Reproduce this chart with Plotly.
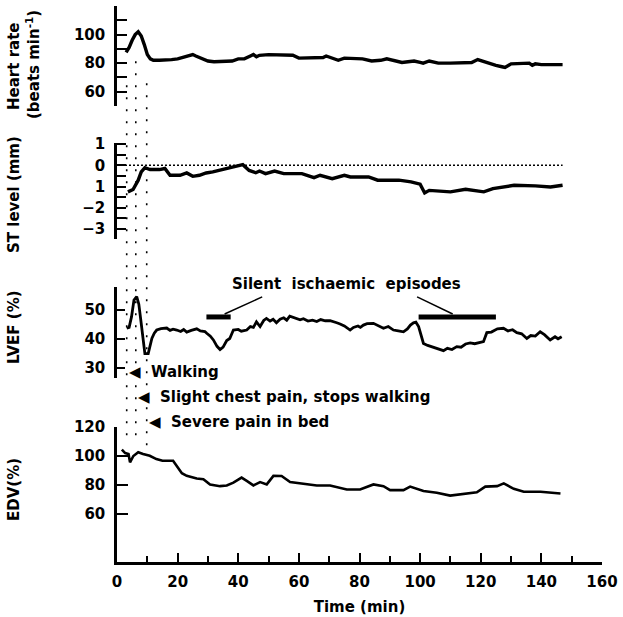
import plotly.graph_objects as go

# ---------------- data ----------------
hr_t = [3, 4, 5, 6, 7, 8, 9, 10, 11, 12, 14, 16, 18, 20, 22, 24, 25, 26, 28, 30, 32, 34, 36, 38, 40,
        42, 44, 45, 46, 47, 50, 54, 58, 60, 64, 68, 69, 71, 73, 75, 78, 81, 84, 87, 89, 92, 94, 96, 98,
        100, 101, 103, 106, 110, 114, 117, 119, 121, 123, 125, 127, 128, 130, 133, 136, 137, 138, 140, 144, 147]
hr_v = [87.5, 91, 96, 100, 102, 99, 93, 86, 83, 82, 82, 82, 82.5, 83, 84, 85.5, 86, 85, 83, 81.5, 81, 81,
        81.5, 81.5, 83, 83, 85, 86, 84.5, 85.5, 86, 86, 85.5, 83.5, 83.5, 84, 85, 83.5, 82, 83.5, 83.5, 83,
        81.5, 82, 83, 81.5, 80.5, 81, 81.5, 80.5, 80, 81.5, 80, 80, 80.5, 80.5, 82.5, 81, 80, 78.5, 77.5, 77,
        79.5, 80, 80, 78.5, 79.5, 79, 79, 79]

st_t = [3.6, 5.3, 7, 8, 9.2, 10.9, 14, 15.8, 17.5, 20.8, 23, 25, 27.2, 29.4, 31.6, 36, 38, 41.5, 43.6,
        45.8, 47, 49, 52, 55, 61, 65, 67, 71, 75, 77, 83, 86, 93, 97, 100, 101.5, 103, 110, 115, 121,
        124, 127, 131, 138, 143, 147]
st_v = [-1.25, -1.14, -0.7, -0.31, -0.11, -0.2, -0.2, -0.15, -0.47, -0.47, -0.36, -0.52, -0.47, -0.36,
        -0.31, -0.16, -0.13, 0.03, -0.24, -0.35, -0.27, -0.39, -0.27, -0.39, -0.39, -0.58, -0.47, -0.63,
        -0.47, -0.55, -0.55, -0.7, -0.7, -0.78, -0.89, -1.3, -1.18, -1.25, -1.13, -1.25, -1.1, -1.02,
        -0.94, -0.97, -1.02, -0.94]

lvef_t = [3.2, 4, 4.8, 5.6, 6.5, 7.2, 7.8, 8.5, 9.2, 10.3, 11, 11.5, 12.3, 13.1, 14.5, 16.4, 17.5, 18.5,
          19.7, 21, 22, 23, 24.5, 26.3, 27.5, 29, 29.6, 30.8, 31.8, 33, 34, 35, 36.2, 37.2, 38.4, 40,
          41, 42.8, 44, 45, 46, 47.2, 48.4, 49.3, 50.5, 51.5, 52.6, 53.8, 55, 56, 57, 58.3, 59.3, 60.4,
          61.5, 63, 64.5, 65.9, 67.2, 68.7, 70.3, 71.5, 72.5, 73.6, 75, 76.9, 78, 79.5, 80.3, 81.3,
          82.5, 84.6, 86, 87.9, 89.5, 91.2, 92.8, 94.5, 95.8, 96.8, 97.8, 98.6, 99.5, 100.3, 101.1,
          102.5, 104.4, 105.8, 107.7, 109, 110.5, 112.1, 113.5, 115, 116.5, 118, 119.5, 120.9, 122,
          123.5, 125.5, 127.5, 129, 130.5, 131.9, 133.5, 135.2, 136.5, 138, 139.6, 141, 142.9, 144.5,
          145.5, 146.7]
lvef_v = [43.7, 44, 47.7, 53.4, 54.6, 52, 47, 40.8, 35, 35, 38, 40.2, 42, 43.1, 43.6, 43.8, 43, 43.4,
          43.1, 42.6, 43.3, 42.4, 43, 43.5, 42.8, 42.6, 42, 41, 39.7, 37.5, 36.4, 37.2, 39.5, 40.2, 43.1,
          43.3, 42.7, 43.1, 44.3, 44, 45.9, 44.3, 46.4, 47.1, 46.2, 46.8, 45.6, 46.8, 47.3, 46.5, 47.9,
          47.4, 46.8, 46.6, 47, 46.2, 46.5, 46, 46.7, 46.3, 46.3, 45.8, 45.6, 45.2, 44.5, 43.1, 44, 44.5,
          44, 44.8, 45.3, 45.4, 44.6, 43.7, 44.3, 43.1, 42.8, 42.5, 43.5, 44.8, 45.6, 45.8, 44.3, 41,
          38.5, 37.8, 37.1, 36.6, 36, 36.8, 36.4, 37.4, 37.2, 38.3, 38.7, 38.4, 38.9, 39.1, 42.2, 42.4,
          43.5, 43.7, 42.8, 43.2, 42.2, 41.8, 40.2, 41.2, 41, 42.5, 41.5, 39.7, 40.8, 40.1, 40.8]

edv_t = [1.6, 2.7, 3.8, 4.3, 5.4, 7, 8.6, 10.8, 13, 15, 18.5, 19.7, 21.4, 23, 26.3, 28.5, 30.7, 34,
         36.2, 38.4, 41.1, 42.8, 45, 47.2, 49.4, 51.6, 54.3, 57.1, 60.4, 65.9, 70.3, 75.8, 80.2, 84.6,
         87.9, 90.1, 94.5, 96.7, 101.1, 105.5, 109.9, 114.3, 118.7, 121.5, 125.4, 127.6, 130.9, 134.2,
         139.7, 146.3]
edv_v = [104.4, 102, 101.4, 95.6, 100, 102.6, 101.4, 100.2, 97.9, 96.7, 96.7, 93.2, 88.1, 86.3, 84.5,
         84, 80.4, 79.2, 79.7, 81.6, 85.1, 82.8, 79.7, 82, 80.4, 86.3, 86.2, 82.1, 81.1, 79.7, 79.7,
         76.9, 76.9, 80.4, 79.2, 76.5, 76.5, 78.9, 75.8, 74.7, 72.7, 74.1, 75, 78.9, 79.2, 81.1, 77.4,
         75.3, 75.3, 74.1]

episode_start = [29.5, 99.5]
episode_end = [37.5, 125]
episode_level = 47.6

event_times = [3.2, 6.2, 9.8]
event_labels = ["Walking", "Slight chest pain, stops walking", "Severe pain in bed"]

x_ticks = [0, 20, 40, 60, 80, 100, 120, 140, 160]
hr_ticks = [60, 80, 100]
st_ticks = [1, 0, -1, -2, -3]
st_ticktext = ["1", "0", "1", "−2", "−3"]
lvef_ticks = [30, 40, 50]
edv_ticks = [60, 80, 100, 120]

# ---------------- figure ----------------
FONT = "DejaVu Sans"
BLACK = "#000000"
TXT = dict(family=FONT, size=15, color=BLACK, weight="bold")
TITLE = dict(family=FONT, size=15, color=BLACK, weight="bold")
TICK = dict(family=FONT, size=15, color=BLACK, weight="bold")
fig = go.Figure()

fig.add_trace(go.Scatter(x=hr_t, y=hr_v, yaxis="y4", mode="lines",
                         line=dict(color=BLACK, width=3.4), showlegend=False))
fig.add_trace(go.Scatter(x=[0, st_t[-1]], y=[0, 0], yaxis="y3", mode="lines",
                         line=dict(color=BLACK, width=1.5, dash="2px,2px"), showlegend=False))
fig.add_trace(go.Scatter(x=st_t, y=st_v, yaxis="y3", mode="lines",
                         line=dict(color=BLACK, width=3.4), showlegend=False))
fig.add_trace(go.Scatter(x=lvef_t, y=lvef_v, yaxis="y2", mode="lines",
                         line=dict(color=BLACK, width=2.8), showlegend=False))
for s, e in zip(episode_start, episode_end):
    fig.add_trace(go.Scatter(x=[s, e], y=[episode_level, episode_level], yaxis="y2", mode="lines",
                             line=dict(color=BLACK, width=5), showlegend=False))
fig.add_trace(go.Scatter(x=edv_t, y=edv_v, yaxis="y", mode="lines",
                         line=dict(color=BLACK, width=2.6), showlegend=False))


def xpaper(px):
    return (px - 117) / (602 - 117)


def ypaper(py):
    return (562 - py) / 556


# pointer lines from the label to the episode bars
lab_y = 54.5
fig.add_shape(type="line", xref="x", yref="y2", x0=47.9, y0=lab_y,
              x1=(episode_start[0] + episode_end[0]) / 2 + 2, y1=episode_level + 1,
              line=dict(color=BLACK, width=1.5))
fig.add_shape(type="line", xref="x", yref="y2", x0=99, y0=lab_y,
              x1=(episode_start[1] + episode_end[1]) / 2 - 1.5, y1=episode_level + 1,
              line=dict(color=BLACK, width=1.5))
fig.add_annotation(x=xpaper(346), y=ypaper(284), xref="paper", yref="paper",
                   text="Silent  ischaemic  episodes", showarrow=False, font=TXT)

# dotted event lines
tops = [0.875, 0.915, 0.875]
bots = [0.228, 0.228, 0.21]
for t, y0, y1 in zip(event_times, bots, tops):
    fig.add_shape(type="line", xref="x", yref="paper", x0=t, x1=t, y0=y0, y1=y1,
                  line=dict(color=BLACK, width=1.6, dash="2px,10px"))

label_y = [ypaper(372), ypaper(397), ypaper(422)]
for t, txt, yy in zip(event_times, event_labels, label_y):
    fig.add_annotation(x=t, y=yy, xref="x", yref="paper", xanchor="left", yanchor="middle",
                       text="◀  " + txt, showarrow=False, font=TXT)

# y titles
titles = [("Heart rate", 14, 66), ("(beats min<sup>-1</sup>)", 33, 65), ("ST level (mm)", 14, 195),
          ("LVEF (%)", 14, 327), ("EDV(%)", 14, 490)]
for txt, px, py in titles:
    fig.add_annotation(x=xpaper(px), y=ypaper(py), xref="paper", yref="paper", text=txt,
                       textangle=-90, showarrow=False, xanchor="center", yanchor="middle", font=TITLE)

common_y = dict(showline=True, linecolor=BLACK, linewidth=2.5, ticks="inside", tickcolor=BLACK,
                tickwidth=2, showgrid=False, zeroline=False, anchor="x", ticklabelstandoff=6,
                automargin=False, tickfont=TICK)

fig.update_layout(
    width=623, height=617,
    margin=dict(l=117, r=21, t=6, b=55, autoexpand=False),
    paper_bgcolor="white", plot_bgcolor="white",
    xaxis=dict(range=[0, 160], tickvals=x_ticks, ticks="inside", ticklen=9, tickwidth=2,
               tickcolor=BLACK, showline=True, linecolor=BLACK, linewidth=2.5, showgrid=False,
               zeroline=False, anchor="y", ticklabelstandoff=4, automargin=False,
               minor=dict(dtick=10, tick0=0, ticks="inside", ticklen=6, tickwidth=2, tickcolor=BLACK),
               tickfont=TICK,
               title=dict(text="Time (min)", font=TITLE, standoff=12)),
    yaxis=dict(domain=[0, 0.2428], range=[26.9, 120], tickvals=edv_ticks, ticklen=11, **common_y),
    yaxis2=dict(domain=[0.3309, 0.4946], range=[26.6, 57.9], tickvals=lvef_ticks, ticklen=8, **common_y),
    yaxis3=dict(domain=[0.5809, 0.7536], range=[-3.47, 1.05], tickvals=st_ticks, ticktext=st_ticktext,
                ticklen=9, minor=dict(dtick=0.5, tick0=0, ticks="inside", ticklen=9, tickwidth=2,
                                      tickcolor=BLACK), **common_y),
    yaxis4=dict(domain=[0.8201, 1.0], range=[50, 120], tickvals=hr_ticks, ticklen=10,
                minor=dict(dtick=10, tick0=50, ticks="inside", ticklen=10, tickwidth=2, tickcolor=BLACK),
                **common_y),
)

fig.write_html("out.html", config={"displayModeBar": False},
               post_script="document.body.style.margin='0px';")
